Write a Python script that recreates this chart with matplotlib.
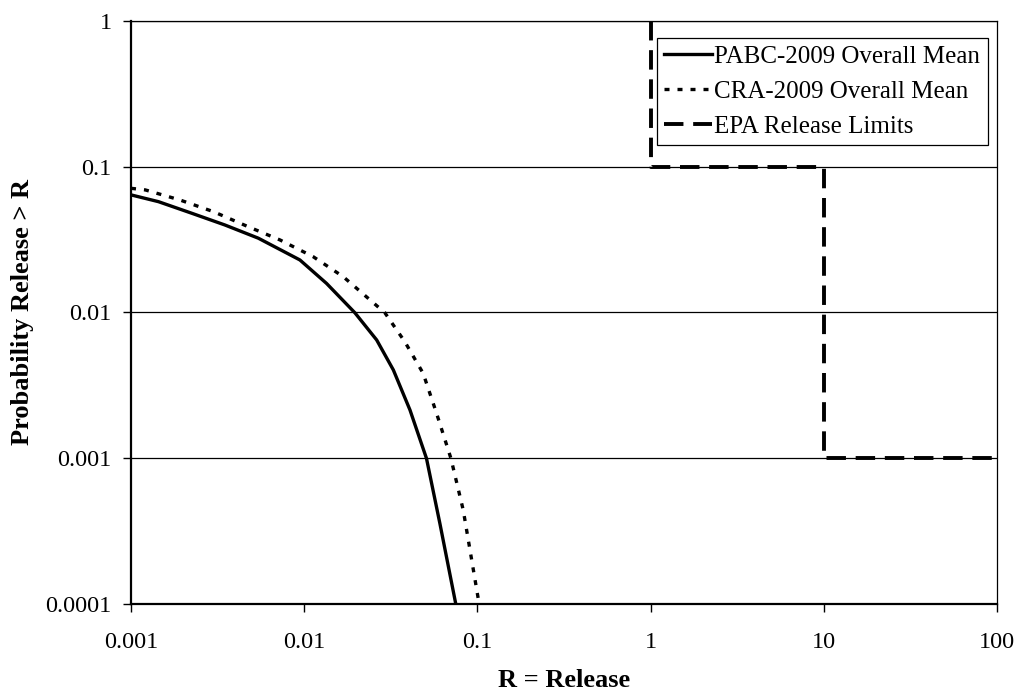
import numpy as np
import matplotlib.pyplot as plt

plt.rcParams["font.family"] = ["Liberation Serif", "DejaVu Serif"]
plt.rcParams["font.size"] = 17

# values (log-log CCDF)
pabc_r = [0.001, 0.00144, 0.00224, 0.00348, 0.00543, 0.00944, 0.01346, 0.0196,
          0.0262, 0.0327, 0.0408, 0.0508, 0.0607, 0.075]
pabc_p = [0.064, 0.0575, 0.0479, 0.0398, 0.0323, 0.0229, 0.0158, 0.00995,
          0.00647, 0.00403, 0.00214, 0.000997, 0.000357, 0.0001]

cra_r = [0.001, 0.00121, 0.00192, 0.00299, 0.00475, 0.00725, 0.01127, 0.01679,
         0.0292, 0.0381, 0.0486, 0.0581, 0.0703, 0.0828, 0.1023]
cra_p = [0.071, 0.0692, 0.059, 0.0491, 0.0387, 0.0314, 0.0241, 0.01758,
         0.00995, 0.00629, 0.00382, 0.00203, 0.000997, 0.000441, 0.0001]

epa_r = [1, 1, 10, 10, 100]
epa_p = [1, 0.1, 0.1, 0.001, 0.001]

xticks = [0.001, 0.01, 0.1, 1, 10, 100]
xticklabels = ["0.001", "0.01", "0.1", "1", "10", "100"]
yticks = [0.0001, 0.001, 0.01, 0.1, 1]
yticklabels = ["0.0001", "0.001", "0.01", "0.1", "1"]

fig = plt.figure(figsize=(10.18, 6.95), dpi=100)
ax = fig.add_axes([0.1287, 0.131, 0.8507, 0.839])

ax.plot(pabc_r, pabc_p, color="black", lw=2.4, label="PABC-2009 Overall Mean")
ax.plot(cra_r, cra_p, color="black", lw=2.4, linestyle=(0, (1.5, 2.4)),
        label="CRA-2009 Overall Mean")
ax.plot(epa_r, epa_p, color="black", lw=2.8, linestyle=(0, (5, 2.5)),
        label="EPA Release Limits", clip_on=False)

ax.set_xscale("log")
ax.set_yscale("log")
ax.set_xlim(0.001, 100)
ax.set_ylim(0.0001, 1)
ax.set_xticks(xticks)
ax.set_xticklabels(xticklabels)
ax.set_yticks(yticks)
ax.set_yticklabels(yticklabels)
ax.minorticks_off()
ax.tick_params(axis="both", direction="out", length=6, width=1, labelsize=17.5,
               colors="black")
ax.tick_params(axis="x", pad=14)
ax.tick_params(axis="y", pad=8)

ax.yaxis.grid(True, color="black", lw=0.9)
ax.set_axisbelow(True)

for side in ["left", "bottom"]:
    ax.spines[side].set_linewidth(1.6)
ax.spines["right"].set_linewidth(0.9)
ax.spines["top"].set_linewidth(0.9)

ax.set_xlabel("R = Release", fontweight="bold", fontsize=19, labelpad=12)
ax.set_ylabel("Probability Release > R", fontweight="bold", fontsize=19, labelpad=8)

leg = ax.legend(loc="upper right", bbox_to_anchor=(0.989, 0.971), fontsize=18,
                fancybox=False, edgecolor="black", framealpha=1,
                handlelength=1.9, handletextpad=0.1, borderpad=0.3,
                labelspacing=0.5, borderaxespad=0)
leg.get_frame().set_linewidth(0.9)

fig.savefig("out.png", dpi=100, facecolor="white")
